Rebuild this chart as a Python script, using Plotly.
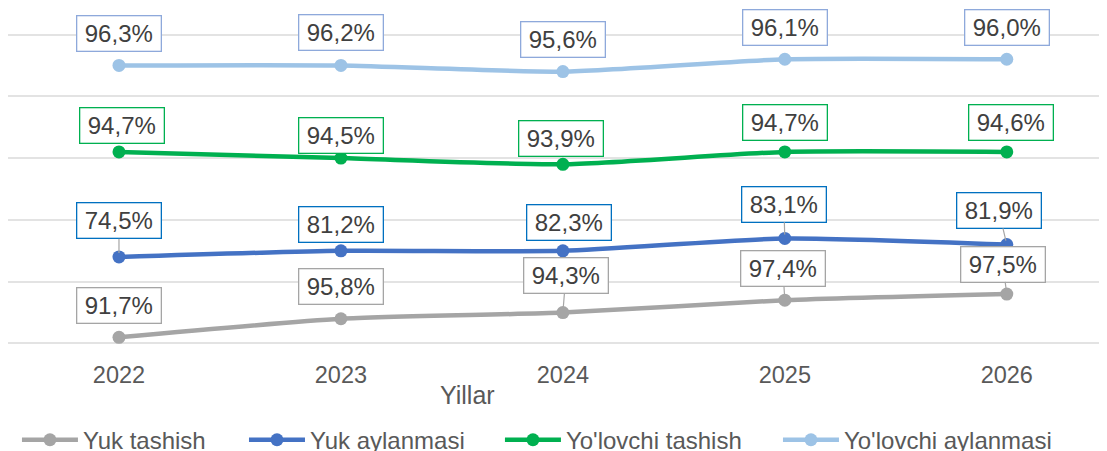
import plotly.graph_objects as go

years = ["2022", "2023", "2024", "2025", "2026"]
series_names = ["Yuk tashish", "Yuk aylanmasi", "Yo'lovchi tashish", "Yo'lovchi aylanmasi"]

# plotted positions (hidden value axis)
yuk_tashish_pos = [1, 4, 5, 7, 8]
yuk_aylanmasi_pos = [14, 15, 15, 17, 16]
yolovchi_tashish_pos = [31, 30, 29, 31, 31]
yolovchi_aylanmasi_pos = [45, 45, 44, 46, 46]

# data labels (%)
yuk_tashish_lbl = [91.7, 95.8, 94.3, 97.4, 97.5]
yuk_aylanmasi_lbl = [74.5, 81.2, 82.3, 83.1, 81.9]
yolovchi_tashish_lbl = [94.7, 94.5, 93.9, 94.7, 94.6]
yolovchi_aylanmasi_lbl = [96.3, 96.2, 95.6, 96.1, 96.0]

positions = [yuk_tashish_pos, yuk_aylanmasi_pos, yolovchi_tashish_pos, yolovchi_aylanmasi_pos]
labels = [yuk_tashish_lbl, yuk_aylanmasi_lbl, yolovchi_tashish_lbl, yolovchi_aylanmasi_lbl]

line_colors = ["#A5A5A5", "#4472C4", "#00B050", "#9DC3E6"]
box_colors = ["#A5A5A5", "#0070C0", "#00B050", "#8EA9DB"]

# label box offsets in pixels (dx, dy) and whether a leader line is shown
offsets = [
    [(0, -32, False), (0, -32, False), (3, -37, True), (-2, -32, True), (-4, -30, True)],
    [(0, -36, True), (0, -26, False), (6, -28, False), (-1, -34, True), (-8, -34, True)],
    [(3, -26, False), (0, -23, False), (-2, -26, False), (0, -29, False), (4, -29, False)],
    [(0, -32, False), (0, -33, False), (0, -32, False), (0, -32, False), (0, -32, False)],
]

legend_ids = ["legend", "legend2", "legend3", "legend4"]
legend_x = [0.0082, 0.2161, 0.4505, 0.7051]

FONT = "Liberation Sans, Arial, sans-serif"
xs = list(range(len(years)))

fig = go.Figure()
for name, pos, col, lid in zip(series_names, positions, line_colors, legend_ids):
    fig.add_trace(go.Scatter(
        x=xs, y=pos, name=name, mode="lines+markers",
        line=dict(color=col, width=4.5, shape="spline", smoothing=0.6),
        marker=dict(color=col, size=13),
        hoverinfo="skip", legend=lid,
    ))

annotations = []
for pos, lbl, bc, offs in zip(positions, labels, box_colors, offsets):
    for i, (v, t) in enumerate(zip(pos, lbl)):
        dx, dy, leader = offs[i]
        annotations.append(dict(
            x=xs[i], y=v, xref="x", yref="y",
            text=f"{t:.1f}%".replace(".", ","),
            showarrow=True, ax=dx, ay=dy, axref="pixel", ayref="pixel",
            arrowhead=0, arrowwidth=1.2,
            arrowcolor="#A6A6A6" if leader else "rgba(0,0,0,0)",
            standoff=4,
            font=dict(family=FONT, size=24, color="#404040"),
            bgcolor="white", bordercolor=bc, borderwidth=1.3, borderpad=1,
            width=81, height=32, align="center", valign="middle",
        ))

annotations.append(dict(
    x=1.569, y=-0.160, xref="x", yref="paper", text="Yillar", showarrow=False,
    font=dict(family=FONT, size=25, color="#595959"), xanchor="center", yanchor="middle",
))

legend_common = dict(
    orientation="h", xanchor="left", y=-0.305, yanchor="middle",
    font=dict(family=FONT, size=24, color="#595959"),
    itemwidth=56, bgcolor="rgba(0,0,0,0)",
)

layout_legends = {}
for lid, lx in zip(legend_ids, legend_x):
    layout_legends[lid] = dict(legend_common, x=lx)

# the page body adds an 8px offset, so the figure is laid out 8px up/left
fig.update_layout(
    width=1107, height=451,
    margin=dict(l=0, r=15, t=24.5, b=113.5, autoexpand=False),
    paper_bgcolor="white", plot_bgcolor="white",
    font=dict(family=FONT, color="#595959"),
    showlegend=True,
    annotations=annotations,
    xaxis=dict(
        range=[-0.5, 4.42], tickvals=xs, ticktext=years, showgrid=False,
        zeroline=False, showline=False, ticks="", ticklabelstandoff=13,
        tickfont=dict(family=FONT, size=23.5, color="#595959"), automargin=False,
    ),
    yaxis=dict(
        range=[-0.25, 50.25], tickvals=[0, 10, 20, 30, 40, 50], showticklabels=False,
        showgrid=True, gridcolor="#E3E3E3", gridwidth=1.5, zeroline=False,
        showline=False, automargin=False,
    ),
    **layout_legends,
)

fig.write_html("out.html")
